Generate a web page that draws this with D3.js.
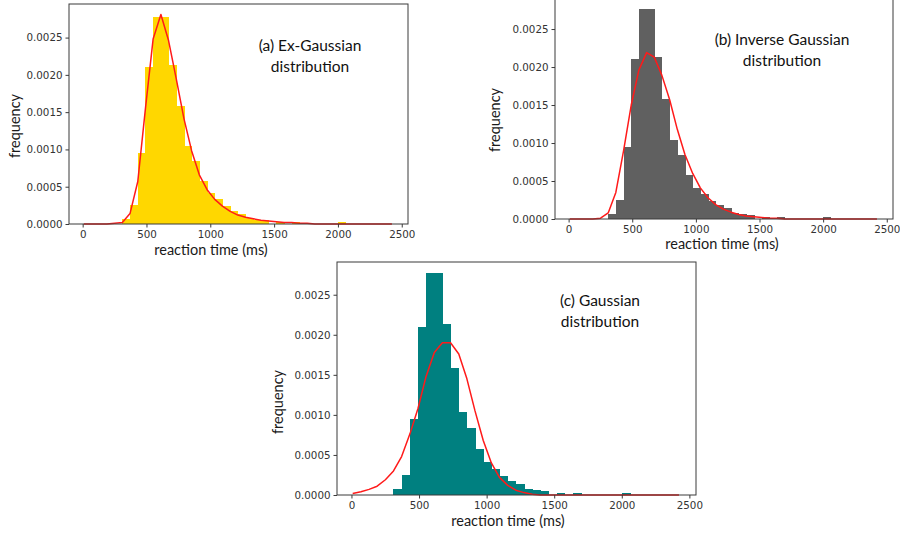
<!DOCTYPE html>
<html>
<head>
<meta charset="utf-8">
<script src="https://cdn.jsdelivr.net/npm/d3@7"></script>
<style>
  body { margin: 0; background: #fff; }
  svg { display: block; }
</style>
</head>
<body>
<script>
// histogram of reaction times (same data in every panel)
const binEdges = [311, 371, 432, 492, 552, 613, 673, 733, 794, 854, 914, 975, 1035, 1095, 1156,
    1216, 1276, 1337, 1397, 1457, 1518, 1578, 1638, 1699, 1759, 1819, 1880, 1940, 2000, 2061];
const binHeights = [0.00007, 0.00025, 0.00095, 0.0021, 0.00277, 0.00277, 0.00213, 0.00158, 0.00104,
    0.00084, 0.00058, 0.00041, 0.00033, 0.00024, 0.00018, 0.00014, 0.00008, 0.00006, 0.00005,
    0, 0.00003, 0, 0.00003, 0, 0, 0, 0, 0, 0.00003];

// fitted curves, sampled at these reaction times
const curveX = [9, 70, 130, 190, 251, 311, 371, 432, 492, 552, 613, 673, 733, 794, 854, 914, 975,
    1035, 1095, 1156, 1216, 1276, 1337, 1397, 1457, 1518, 1578, 1638, 1699, 1759, 1819, 1880,
    1940, 2000, 2061, 2121, 2181, 2242, 2302, 2362, 2423];
const exGaussY = [0, 0, 0, 0, 0.00001, 0.00002, 0.00014, 0.00057, 0.00155, 0.00248, 0.00281,
    0.00246, 0.00195, 0.00141, 0.00098, 0.00066, 0.00046, 0.00033, 0.00024, 0.00017, 0.00012,
    0.00009, 0.00007, 0.00005, 0.00004, 0.00003, 0.00002, 0.00002, 0.00001, 0.00001,
    0, 0, 0, 0, 0, 0, 0, 0, 0, 0, 0];
const invGaussY = [0, 0, 0, 0, 0.00001, 0.00008, 0.00035, 0.0009, 0.0015, 0.00196, 0.00219,
    0.00213, 0.00189, 0.00157, 0.00118, 0.00085, 0.0006, 0.00041, 0.00028, 0.00019, 0.00013,
    0.00009, 0.00006, 0.00004, 0.00003, 0.00002, 0.00001, 0.00001,
    0, 0, 0, 0, 0, 0, 0, 0, 0, 0, 0, 0, 0];
const gaussY = [0.00002, 0.00004, 0.00007, 0.00011, 0.00019, 0.0003, 0.00048, 0.00076, 0.00108,
    0.00148, 0.00178, 0.0019, 0.0019, 0.00176, 0.00145, 0.00105, 0.00068, 0.0004, 0.00022,
    0.00012, 0.00006, 0.00003, 0.00001,
    0, 0, 0, 0, 0, 0, 0, 0, 0, 0, 0, 0, 0, 0, 0, 0, 0, 0];

const xTicks = [0, 500, 1000, 1500, 2000, 2500];
const yTicks = [0, 0.0005, 0.001, 0.0015, 0.002, 0.0025];

const svg = d3.select("body").append("svg")
    .attr("width", 900)
    .attr("height", 535);

const panels = [
    { left: 69, right: 408, top: 4, bottom: 224, fill: "#ffd700", curve: exGaussY,
      note: ["(a) Ex-Gaussian", "distribution"], noteX: 310, noteY: 46,
      xlab: [211, 255], ylab: [20, 126] },
    { left: 555, right: 893, top: -2, bottom: 219, fill: "#606060", curve: invGaussY,
      note: ["(b) Inverse Gaussian", "distribution"], noteX: 782, noteY: 40,
      xlab: [722, 249], ylab: [500, 120] },
    { left: 337, right: 696, top: 262, bottom: 495, fill: "#008080", curve: gaussY,
      note: ["(c) Gaussian", "distribution"], noteX: 600, noteY: 301,
      xlab: [508, 526], ylab: [283, 402] }
];

panels.forEach(p => {
    let g = svg.append("g");

    let x = d3.scaleLinear().domain([-107, 2549]).range([p.left, p.right]);
    let yMax = d3.max([d3.max(binHeights), d3.max(p.curve)]) * 1.05;
    let y = d3.scaleLinear().domain([0, yMax]).range([p.bottom, p.top]);

    // bars
    g.selectAll("rect.bar")
        .data(binHeights)
        .enter()
        .append("rect")
        .attr("class", "bar")
        .attr("x", (d, i) => x(binEdges[i]))
        .attr("width", (d, i) => x(binEdges[i + 1]) - x(binEdges[i]) + 0.6)
        .attr("y", d => y(d))
        .attr("height", d => y(0) - y(d))
        .attr("fill", p.fill)
        .attr("shape-rendering", "crispEdges");

    // fitted curve
    let line = d3.line()
        .x((d, i) => x(curveX[i]))
        .y(d => y(d));
    g.append("path")
        .datum(p.curve)
        .attr("d", line)
        .attr("fill", "none")
        .attr("stroke", "#ff1a1a")
        .attr("stroke-width", 1.5)
        .attr("stroke-linejoin", "round");

    // frame
    g.append("rect")
        .attr("x", p.left)
        .attr("y", p.top)
        .attr("width", p.right - p.left)
        .attr("height", p.bottom - p.top)
        .attr("fill", "none")
        .attr("stroke", "#3a3a3a")
        .attr("stroke-width", 1);

    let xAxis = d3.axisBottom(x).tickValues(xTicks).tickFormat(d3.format("d"))
        .tickSize(3.5).tickPadding(3).tickSizeOuter(0);
    let yAxis = d3.axisLeft(y).tickValues(yTicks).tickFormat(d3.format(".4f"))
        .tickSize(3.5).tickPadding(3).tickSizeOuter(0);

    let gx = g.append("g")
        .attr("transform", `translate(0,${p.bottom})`)
        .call(xAxis);
    let gy = g.append("g")
        .attr("transform", `translate(${p.left},0)`)
        .call(yAxis);
    [gx, gy].forEach(a => {
        a.select(".domain").remove();
        a.selectAll("line").attr("stroke", "#3a3a3a");
        a.selectAll("text")
            .attr("fill", "#333")
            .style("font-family", "DejaVu Sans")
            .style("font-size", "10.3px");
    });

    // axis labels
    g.append("text")
        .attr("x", p.xlab[0])
        .attr("y", p.xlab[1])
        .attr("text-anchor", "middle")
        .style("font-family", "Lato")
        .style("font-size", "14.5px")
        .attr("fill", "#1a1a1a")
        .text("reaction time (ms)");

    g.append("text")
        .attr("transform", `translate(${p.ylab[0]},${p.ylab[1]}) rotate(-90)`)
        .attr("text-anchor", "middle")
        .style("font-family", "Lato")
        .style("font-size", "14.5px")
        .attr("fill", "#1a1a1a")
        .text("frequency");

    // annotation
    let note = g.append("text")
        .attr("text-anchor", "middle")
        .style("font-family", "Lato")
        .style("font-size", "15.5px")
        .attr("fill", "#111");
    p.note.forEach((t, i) => {
        note.append("tspan")
            .attr("x", p.noteX)
            .attr("y", p.noteY + 5 + i * 20.5)
            .text(t);
    });
});
</script>
</body>
</html>
